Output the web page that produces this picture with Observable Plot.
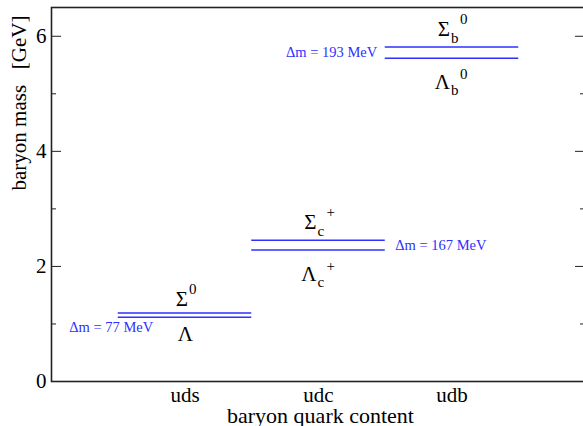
<!DOCTYPE html>
<html>
<head>
<meta charset="utf-8">
<script src="https://cdn.jsdelivr.net/npm/d3@7"></script>
<script src="https://cdn.jsdelivr.net/npm/@observablehq/plot@0.6"></script>
<style>
  html, body { margin: 0; padding: 0; background: white; overflow: hidden; }
  #chart { width: 583px; height: 426px; overflow: hidden; }
</style>
</head>
<body>
<div id="chart"></div>
<script>
// ---- data ----
const flavors = ["uds", "udc", "udb"];
const lambdaMass = [1.1157, 2.2865, 5.6196];   // GeV
const sigmaMass = [1.1926, 2.4529, 5.8126];    // GeV
const deltaMeV = [77, 167, 193];
const levelStart = [0.4, 1.6, 2.8];
const levelEnd = [1.6, 2.8, 4.0];
const subscripts = ["", "c", "b"];
const sigmaCharge = ["0", "+", "0"];
const lambdaCharge = ["", "+", "0"];
const yMajorTicks = [0, 2, 4, 6];
const yMinorTicks = [1, 3, 5];

// ---- derived tables ----
const groups = flavors.map((f, i) => ({
  flavor: f, i,
  x1: levelStart[i], x2: levelEnd[i], xc: (levelStart[i] + levelEnd[i]) / 2,
  lambda: lambdaMass[i], sigma: sigmaMass[i],
  mid: (lambdaMass[i] + sigmaMass[i]) / 2,
  sub: subscripts[i], sigCharge: sigmaCharge[i], lamCharge: lambdaCharge[i],
  delta: `Δm = ${deltaMeV[i]} MeV`
}));
const levels = groups.flatMap(g => [
  {x1: g.x1, x2: g.x2, mass: g.lambda},
  {x1: g.x1, x2: g.x2, mass: g.sigma}
]);
const withSub = groups.filter(g => g.sub);
const noSub = groups.filter(g => !g.sub);

const W = 583, H = 426, mL = 51, mR = -2, mT = 7, mB = 45;
const frameW = W - mL - mR;
const blue = "#2f2fff";
const ink = "#222";
const greekSize = 21, smallSize = 15, deltaSize = 14.5;

const marks = [
  Plot.frame({stroke: ink, strokeWidth: 1.6}),
  // inward ticks, left
  Plot.tickY(yMajorTicks, {y: d => d, stroke: ink, insetRight: frameW - 10}),
  Plot.tickY(yMinorTicks, {y: d => d, stroke: ink, insetRight: frameW - 5}),
  // inward ticks, right
  Plot.tickY(yMajorTicks, {y: d => d, stroke: ink, insetLeft: frameW - 10}),
  Plot.tickY(yMinorTicks, {y: d => d, stroke: ink, insetLeft: frameW - 5}),
  // tick labels
  Plot.text(yMajorTicks, {y: d => d, text: d => String(d), frameAnchor: "left", textAnchor: "end", dx: -5, fontSize: 21}),
  Plot.text(groups, {x: "xc", text: "flavor", frameAnchor: "bottom", lineAnchor: "bottom", dy: 20, fontSize: 21}),
  // axis titles
  Plot.text(["baryon quark content"], {frameAnchor: "bottom", dx: 2, dy: 41, lineAnchor: "bottom", fontSize: 22}),
  Plot.text(["baryon mass\u00a0\u00a0 [GeV]"], {frameAnchor: "left", dx: -32, dy: -4, rotate: -90, fontSize: 21}),
  // energy levels
  Plot.ruleY(levels, {y: "mass", x1: "x1", x2: "x2", stroke: blue, strokeWidth: 1.5}),
  // labels: groups without subscript (uds)
  Plot.text(noSub, {x: "xc", y: "sigma", text: () => "Σ", textAnchor: "end", lineAnchor: "bottom", dx: 3, dy: -7, fontSize: greekSize}),
  Plot.text(noSub, {x: "xc", y: "sigma", text: "sigCharge", textAnchor: "start", lineAnchor: "bottom", dx: 4, dy: -19, fontSize: smallSize}),
  Plot.text(noSub, {x: "xc", y: "lambda", text: () => "Λ", textAnchor: "end", lineAnchor: "bottom", dx: 8, dy: 24, fontSize: greekSize}),
  // labels: groups with subscript (udc, udb)
  Plot.text(withSub, {x: "xc", y: "sigma", text: () => "Σ", textAnchor: "end", lineAnchor: "bottom", dx: -2, dy: -11, fontSize: greekSize}),
  Plot.text(withSub, {x: "xc", y: "sigma", text: "sub", textAnchor: "start", lineAnchor: "bottom", dx: -1, dy: -4, fontSize: smallSize}),
  Plot.text(withSub, {x: "xc", y: "sigma", text: "sigCharge", textAnchor: "start", lineAnchor: "bottom", dx: 8, dy: -23, fontSize: smallSize}),
  Plot.text(withSub, {x: "xc", y: "lambda", text: () => "Λ", textAnchor: "end", lineAnchor: "bottom", dx: -2, dy: 31, fontSize: greekSize}),
  Plot.text(withSub, {x: "xc", y: "lambda", text: "sub", textAnchor: "start", lineAnchor: "bottom", dx: -1, dy: 37, fontSize: smallSize}),
  Plot.text(withSub, {x: "xc", y: "lambda", text: "lamCharge", textAnchor: "start", lineAnchor: "bottom", dx: 8, dy: 21, fontSize: smallSize}),
  // mass splitting labels
  Plot.text(groups.filter(g => g.i === 0), {x: "x1", y: "lambda", text: "delta", textAnchor: "start", lineAnchor: "bottom", dx: -49, dy: 15, fill: blue, fontSize: deltaSize}),
  Plot.text(groups.filter(g => g.i === 1), {x: "x2", y: "mid", text: "delta", textAnchor: "start", dx: 10, fill: blue, fontSize: deltaSize}),
  Plot.text(groups.filter(g => g.i === 2), {x: "x1", y: "mid", text: "delta", textAnchor: "end", dx: -8, fill: blue, fontSize: deltaSize})
];

const chart = Plot.plot({
  width: W,
  height: H,
  marginLeft: mL,
  marginRight: mR,
  marginTop: mT,
  marginBottom: mB,
  style: {fontFamily: "'Liberation Serif', 'DejaVu Serif', serif", fontSize: "21px", color: "black", background: "white", overflow: "hidden"},
  x: {domain: [-0.2, 4.6], axis: null},
  y: {domain: [0, 6.5], axis: null},
  marks
});
document.getElementById("chart").appendChild(chart);
</script>
</body>
</html>
